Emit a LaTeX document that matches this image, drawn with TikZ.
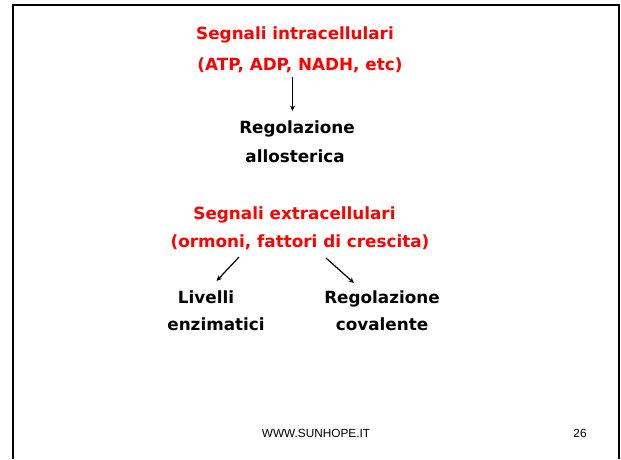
\documentclass[tikz,border=0pt]{standalone}
\usepackage{fontspec}
\setmainfont{DejaVu Sans}
\newfontfamily\footfont{Liberation Sans}
\usetikzlibrary{arrows.meta}
\definecolor{sred}{RGB}{255,0,0}
\tikzset{
  lbl/.style={font=\bfseries\fontsize{16.8}{18}\selectfont, anchor=base, inner sep=0pt},
  redlbl/.style={lbl, text=sred},
  foot/.style={font=\footfont\fontsize{11.8}{13}\selectfont, anchor=base, inner sep=0pt},
  conn/.style={line width=1.2pt, -{Stealth[length=5.5pt,width=5pt]}},
  frame/.style={line width=2.6pt, line cap=butt}
}
\begin{document}
\begin{tikzpicture}[x=1pt,y=-1pt]
\useasboundingbox (0,0) rectangle (621,459);
\fill[white] (0,0) rectangle (621,459);
% frame
\coordinate (fbl) at (13,459);
\coordinate (ftl) at (13,5);
\coordinate (ftr) at (619,5);
\coordinate (fbr) at (619,459);
\draw[frame] (fbl) -- (ftl) -- (ftr) -- (fbr);
% texts
\node[redlbl] (intra1) at (295,39) {Segnali intracellulari};
\node[redlbl] (intra2) at (300,70) {(ATP, ADP, NADH, etc)};
\node[lbl] (allo1) at (297,133) {Regolazione};
\node[lbl] (allo2) at (295,162) {allosterica};
\node[redlbl] (extra1) at (294.5,219) {Segnali extracellulari};
\node[redlbl] (extra2) at (300,247) {(ormoni, fattori di crescita)};
\node[lbl] (liv1) at (206,303) {Livelli};
\node[lbl] (liv2) at (216,330) {enzimatici};
\node[lbl] (cov1) at (382,303) {Regolazione};
\node[lbl] (cov2) at (382,330) {covalente};
\node[foot] (site) at (316,437) {WWW.SUNHOPE.IT};
\node[foot] (page) at (580,437) {26};
% connectors
\coordinate (a1s) at (292.5,77);
\coordinate (a1e) at (292.5,111);
\coordinate (a2s) at (239,257);
\coordinate (a2e) at (216.5,281);
\coordinate (a3s) at (326,258);
\coordinate (a3e) at (354,283);
\draw[conn] (a1s) -- (a1e);
\draw[conn] (a2s) -- (a2e);
\draw[conn] (a3s) -- (a3e);
\end{tikzpicture}
\end{document}
